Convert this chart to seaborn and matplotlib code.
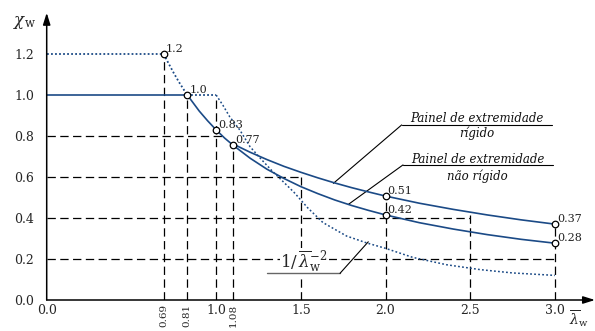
import matplotlib
matplotlib.use("Agg")
import matplotlib.pyplot as plt
import seaborn as sns
import pandas as pd

sns.set_style("white")
plt.rcParams["font.family"] = ["DejaVu Serif", "DejaVu Sans"]
plt.rcParams["mathtext.fontset"] = "dejavuserif"
plt.rcParams["lines.scale_dashes"] = False

# ---------------- data ----------------
# plateau eta = 1.2 (dotted) and eta = 1.0 (solid)
plateau12_x = [0.0, 0.69]
plateau12_y = [1.2, 1.2]
plateau10_x = [0.0, 0.83]
plateau10_y = [1.0, 1.0]
# dotted drop from 1.2 down to the 1.0 knee
drop12_x = [0.69, 0.72, 0.75, 0.78, 0.81, 0.83]
drop12_y = [1.2, 1.153, 1.107, 1.064, 1.025, 1.0]
# common solid branch
common_x = [0.83, 0.90, 0.95, 1.00, 1.05, 1.10]
common_y = [1.0, 0.922, 0.874, 0.83, 0.790, 0.755]
# rigid end panel
rigid_x = [1.10, 1.2, 1.3, 1.4, 1.5, 1.6, 1.7, 1.8, 1.9, 2.0, 2.2, 2.4, 2.6, 2.8, 3.0]
rigid_y = [0.761, 0.721, 0.685, 0.652, 0.623, 0.596, 0.571, 0.548, 0.527, 0.507,
           0.472, 0.442, 0.415, 0.391, 0.370]
# non-rigid end panel
nonrigid_x = [1.10, 1.2, 1.3, 1.4, 1.5, 1.6, 1.7, 1.8, 1.9, 2.0, 2.2, 2.4, 2.6, 2.8, 3.0]
nonrigid_y = [0.755, 0.692, 0.638, 0.593, 0.553, 0.519, 0.488, 0.461, 0.437, 0.415,
              0.377, 0.346, 0.319, 0.296, 0.277]
# dotted plateau 1.0 to lambda = 1.0 and 1/lambda^2 like curve
dotflat_x = [0.83, 1.0]
dotflat_y = [1.0, 1.0]
euler_x = [1.0, 1.04, 1.08, 1.14, 1.2, 1.27, 1.33, 1.38, 1.46, 1.54, 1.63, 1.77,
           1.89, 2.0, 2.16, 2.36, 2.56, 2.75, 3.0]
euler_y = [1.0, 0.95, 0.894, 0.829, 0.748, 0.683, 0.63, 0.59, 0.525, 0.45, 0.378,
           0.312, 0.278, 0.252, 0.208, 0.172, 0.148, 0.132, 0.12]

# marked points and their labels
pt_x = [0.69, 0.83, 1.0, 1.10, 2.0, 2.0, 3.0, 3.0]
pt_y = [1.2, 1.0, 0.83, 0.755, 0.507, 0.415, 0.37, 0.277]
pt_lab = ["1.2", "1.0", "0.83", "0.77", "0.51", "0.42", "0.37", "0.28"]

# reference (dashed) lines
vline_x = [0.69, 0.83, 1.0, 1.10, 1.5, 2.0, 2.5, 3.0]
vline_top = [1.2, 1.0, 1.0, 0.755, 0.6, 0.507, 0.428, 0.37]
hline_y = [0.8, 0.6, 0.4, 0.2]
hline_end = [1.05, 1.5, 2.5, 3.0]

# ticks
yticks = [0.0, 0.2, 0.4, 0.6, 0.8, 1.0, 1.2]
ytick_labels = ["0.0", "0.2", "0.4", "0.6", "0.8", "1.0", "1.2"]
xticks = [0.0, 0.69, 0.83, 1.0, 1.10, 1.5, 2.0, 2.5, 3.0]
xtick_labels = ["0.0", "0.69", "0.81", "1.0", "1.08", "1.5", "2.0", "2.5", "3.0"]
xtick_rot = [0, 90, 90, 0, 90, 0, 0, 0, 0]

# ---------------- figure ----------------
W, H = 595, 331
fig = plt.figure(figsize=(W / 100, H / 100), dpi=100)
x0px, y0px = 46.7, 31.0
ax = fig.add_axes([x0px / W, y0px / H, (W - x0px) / W, (H - y0px) / H])
xmax = (W - x0px) / 169.43
ymax = (H - y0px) / 205.0
ax.set_xlim(0, xmax)
ax.set_ylim(0, ymax)
for s in ax.spines.values():
    s.set_visible(False)

BLUE = "#1b4a86"
DOT = (0, (1.3, 1.6))
DASH = (0, (6, 3.2))

# dashed guide lines
for x, t in zip(vline_x, vline_top):
    ax.plot([x, x], [0, t], color="black", lw=0.9, linestyle=DASH, zorder=1)
for y, e in zip(hline_y, hline_end):
    ax.plot([0, e], [y, y], color="black", lw=0.9, linestyle=DASH, zorder=1)

def curve(xs, ys, ls, lw):
    df = pd.DataFrame({"x": xs, "y": ys})
    sns.lineplot(data=df, x="x", y="y", ax=ax, color=BLUE, linestyle=ls,
                 linewidth=lw, estimator=None, sort=False, zorder=3)

curve(plateau12_x, plateau12_y, DOT, 1.3)
curve(drop12_x, drop12_y, DOT, 1.3)
curve(dotflat_x, dotflat_y, DOT, 1.3)
curve(euler_x, euler_y, DOT, 1.1)
curve(plateau10_x, plateau10_y, "-", 1.2)
curve(common_x, common_y, "-", 1.2)
curve(rigid_x, rigid_y, "-", 1.2)
curve(nonrigid_x, nonrigid_y, "-", 1.2)

pts = pd.DataFrame({"x": pt_x, "y": pt_y})
sns.scatterplot(data=pts, x="x", y="y", ax=ax, s=22, facecolor="white",
                edgecolor="black", linewidth=0.9, zorder=5, clip_on=False)
for x, y, lab in zip(pt_x, pt_y, pt_lab):
    ax.annotate(lab, (x, y), xytext=(1.5, 0), textcoords="offset points",
                ha="left", va="bottom", fontsize=8, color="#222222")

# axes with arrows
ax.annotate("", xy=(0, 1.401), xytext=(0, 0),
            arrowprops=dict(arrowstyle="-|>,head_length=0.7,head_width=0.22",
                            lw=1.1, color="black", shrinkA=0, shrinkB=0),
            annotation_clip=False, zorder=6)
ax.annotate("", xy=(xmax, 0), xytext=(0, 0),
            arrowprops=dict(arrowstyle="-|>,head_length=0.7,head_width=0.22",
                            lw=1.1, color="black", shrinkA=0, shrinkB=0),
            annotation_clip=False, zorder=6)

ax.set_yticks(yticks)
ax.set_yticklabels(ytick_labels, fontsize=9)
ax.set_xticks(xticks)
ax.set_xticklabels(xtick_labels, fontsize=9)
for lab, r in zip(ax.get_xticklabels(), xtick_rot):
    if r:
        lab.set_rotation(r)
        lab.set_fontsize(7.5)
        lab.set_va("top")
ax.tick_params(axis="y", direction="out", length=5, width=1.0, pad=4, color="black")
ax.tick_params(axis="x", length=0, pad=3)
ax.set_xlabel("")
ax.set_ylabel("")

# axis titles
ax.text(-0.134, 1.352, r"$\chi_{\mathrm{w}}$", fontsize=12, ha="center", va="center")
ax.text(3.14, -0.09, r"$\overline{\lambda}_{\mathrm{w}}$", fontsize=10,
        ha="center", va="center", clip_on=False)

# curve labels
lab_kw = dict(fontsize=8.5, style="italic", ha="center", va="baseline", color="#111111")
ax.text(2.538, 0.866, "Painel de extremidade", **lab_kw)
ax.text(2.538, 0.797, "rígido", **lab_kw)
ax.plot([2.095, 2.981], [0.854, 0.854], color="black", lw=0.8, zorder=2)
ax.plot([1.692, 2.095], [0.569, 0.854], color="black", lw=0.8, zorder=2)

ax.text(2.546, 0.670, "Painel de extremidade", **lab_kw)
ax.text(2.543, 0.586, "não rígido", **lab_kw)
ax.plot([2.103, 2.988], [0.659, 0.659], color="black", lw=0.8, zorder=2)
ax.plot([1.780, 2.103], [0.466, 0.659], color="black", lw=0.8, zorder=2)

ax.text(1.519, 0.158, r"$1/\,\overline{\lambda}_{\mathrm{w}}^{-2}$", fontsize=12,
        ha="center", va="baseline", zorder=4,
        bbox=dict(facecolor="white", edgecolor="none", pad=0.6))
ax.plot([1.299, 1.731], [0.13, 0.13], color="#666666", lw=1.0, zorder=6)
ax.plot([1.731, 1.898], [0.13, 0.284], color="black", lw=0.8, zorder=6)

fig.savefig("out.png", dpi=100)
